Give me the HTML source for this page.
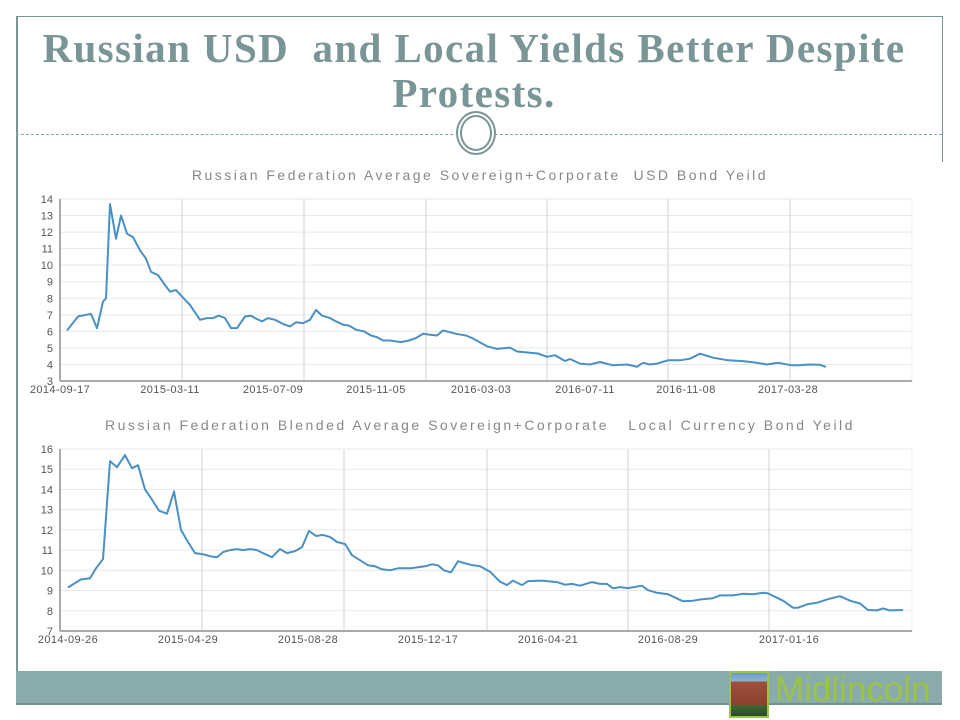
<!DOCTYPE html>
<html><head><meta charset="utf-8"><style>
body{margin:0;width:960px;height:720px;background:#fff;overflow:hidden;position:relative;font-family:"Liberation Sans",sans-serif}
.t{position:absolute;left:0;width:948px;text-align:center;font-family:"Liberation Serif",serif;font-weight:bold;color:#7a9596;font-size:41px;line-height:44px;letter-spacing:1.4px}
</style></head><body>
<div style="position:absolute;left:16px;top:16px;width:926px;height:0;border-top:1px solid #7a9596"></div>
<div style="position:absolute;left:16px;top:16px;width:0;height:655px;border-left:2px solid #7a9596"></div>
<div style="position:absolute;left:942px;top:16px;width:0;height:146px;border-left:1px solid #7a9596"></div>
<div class="t" style="top:26px">Russian USD&nbsp; and Local Yields Better Despite</div>
<div class="t" style="top:71px">Protests.</div>
<div style="position:absolute;left:16px;top:134px;width:926px;border-top:1px dashed #8aa"></div>
<div style="position:absolute;left:454px;top:110px;width:42px;height:46px;background:#fff"></div>
<div style="position:absolute;left:456px;top:111px;width:40px;height:44px;border:2px solid #7a9596;border-radius:50%;box-sizing:border-box"></div>
<div style="position:absolute;left:460px;top:115px;width:32px;height:36px;border:2px solid #7a9596;border-radius:50%;box-sizing:border-box"></div>
<div style="position:absolute;left:16px;top:671px;width:926px;height:32px;background:#8aabab;border-bottom:2px solid #6f8f90"></div>
<div style="position:absolute;left:729px;top:671px;width:40px;height:47px;border:2px solid #9bc447;background:linear-gradient(#6a9cc8 0,#8fb4d4 20%,#a0503a 20%,#8b4030 75%,#3f6a2f 75%,#2c4a22 100%);box-sizing:border-box"></div>
<div style="position:absolute;left:775px;top:670px;font-size:35px;color:#9bc447;font-family:'Liberation Sans',sans-serif">Midlincoln</div>
<svg id="s" width="960" height="720" style="position:absolute;left:0;top:0"></svg>
<script>
var s=document.getElementById('s'),h='';
function chart(o){
 var L=60,R=912,T=o.top,B=o.bot,n=o.max-o.min,u=(B-T)/n;
 h+='<text x="480" y="'+o.ty+'" font-size="14" fill="#888" text-anchor="middle" font-family="Liberation Sans" letter-spacing="'+o.ls+'">'+o.title+'</text>';
 h+='<rect x="'+L+'" y="'+T+'" width="'+(R-L)+'" height="'+(B-T)+'" fill="none" stroke="#e8e8e8"/>';
 for(var v=o.min;v<=o.max;v++){var y=B-(v-o.min)*u;
  h+='<line x1="'+L+'" x2="'+R+'" y1="'+y+'" y2="'+y+'" stroke="#e8e8e8"/>';
  h+='<text x="53" y="'+(y+4)+'" font-size="11" fill="#555" text-anchor="end" font-family="Liberation Sans">'+v+'</text>';}
 o.gx.forEach(function(x){h+='<line x1="'+x+'" x2="'+x+'" y1="'+T+'" y2="'+B+'" stroke="#e0e0e0" stroke-width="1.5"/>';});
 o.lab.forEach(function(l){h+='<text x="'+l[0]+'" y="'+(B+12)+'" font-size="11" fill="#555" text-anchor="middle" font-family="Liberation Sans" letter-spacing="0.4">'+l[1]+'</text>';});
 h+='<line x1="'+L+'" x2="'+L+'" y1="'+T+'" y2="'+B+'" stroke="#aaa" stroke-width="2"/>';
 h+='<line x1="'+L+'" x2="'+R+'" y1="'+B+'" y2="'+B+'" stroke="#aaa" stroke-width="2"/>';
 var d=o.d.map(function(p,i){return (i?'L':'M')+p[0]+','+(B-(p[1]-o.min)*u).toFixed(1)}).join('');
 h+='<path d="'+d+'" fill="none" stroke="#4a90c4" stroke-width="2" stroke-linejoin="round"/>';
}
chart({top:199,bot:381,min:3,max:14,ty:180,ls:2.5,title:'Russian Federation Average Sovereign+Corporate&#160; USD Bond Yeild',
gx:[182,304,426,547,668,790],
lab:[[60,'2014-09-17'],[170,'2015-03-11'],[273,'2015-07-09'],[376,'2015-11-05'],[481,'2016-03-03'],[585,'2016-07-11'],[686,'2016-11-08'],[788,'2017-03-28']],
d:[[67,6.05],[78,6.9],[86,7.0],[91,7.05],[97,6.2],[103,7.8],[106,8],[110,13.7],[116,11.6],[121,13],[127,11.9],[133,11.7],[140,10.9],[146,10.4],[151,9.6],[158,9.4],[165,8.8],[170,8.4],[176,8.5],[182,8.1],[190,7.6],[200,6.7],[207,6.8],[213,6.8],[219,6.95],[225,6.8],[231,6.2],[237,6.2],[245,6.9],[251,6.95],[255,6.8],[262,6.6],[268,6.8],[275,6.7],[283,6.45],[290,6.3],[296,6.55],[303,6.5],[310,6.7],[316,7.3],[322,6.95],[330,6.8],[336,6.6],[343,6.4],[349,6.35],[356,6.1],[364,6.0],[371,5.75],[377,5.65],[383,5.45],[390,5.45],[395,5.4],[401,5.35],[409,5.45],[416,5.6],[423,5.85],[430,5.8],[437,5.75],[443,6.05],[450,5.95],[456,5.85],[466,5.75],[472,5.6],[480,5.33],[487,5.1],[497,4.94],[510,5.02],[517,4.78],[538,4.66],[547,4.46],[555,4.56],[565,4.21],[570,4.33],[580,4.05],[590,4.0],[600,4.15],[613,3.95],[627,4.0],[637,3.86],[643,4.1],[650,4.0],[657,4.05],[668,4.25],[680,4.25],[690,4.35],[700,4.65],[713,4.41],[728,4.25],[743,4.2],[757,4.1],[767,4.0],[778,4.1],[792,3.95],[800,3.95],[808,4.0],[820,3.98],[826,3.85]]});
chart({top:449,bot:631,min:7,max:16,ty:430,ls:2.5,title:'Russian Federation Blended Average Sovereign+Corporate&#160;&#160; Local Currency Bond Yeild',
gx:[202,344,487,628,769],
lab:[[68,'2014-09-26'],[188,'2015-04-29'],[308,'2015-08-28'],[428,'2015-12-17'],[548,'2016-04-21'],[668,'2016-08-29'],[789,'2017-01-16']],
d:[[68,9.15],[81,9.55],[90,9.6],[96,10.1],[103,10.55],[110,15.4],[117,15.1],[125,15.7],[132,15.05],[138,15.2],[145,14.0],[152,13.5],[159,12.95],[167,12.8],[174,13.9],[181,12.0],[188,11.4],[195,10.85],[203,10.8],[210,10.7],[217,10.65],[223,10.9],[230,11.0],[237,11.05],[243,11.0],[250,11.05],[257,11.0],[263,10.85],[272,10.65],[280,11.05],[287,10.85],[295,10.95],[302,11.15],[309,11.95],[316,11.7],[323,11.75],[330,11.65],[337,11.4],[345,11.3],[352,10.75],[360,10.5],[368,10.25],[375,10.2],[382,10.05],[390,10.0],[398,10.1],[405,10.1],[411,10.1],[418,10.15],[425,10.2],[432,10.3],[438,10.25],[444,10.0],[451,9.9],[458,10.45],[465,10.35],[473,10.25],[480,10.2],[490,9.93],[500,9.44],[507,9.27],[513,9.49],[522,9.27],[528,9.47],[542,9.49],[557,9.42],[565,9.29],[572,9.33],[580,9.24],[592,9.42],[600,9.33],[607,9.33],[613,9.11],[620,9.17],[628,9.12],[642,9.24],[648,9.02],[657,8.89],[668,8.82],[683,8.47],[693,8.5],[700,8.56],[712,8.61],[720,8.76],[733,8.76],[743,8.84],[753,8.82],[763,8.89],[768,8.86],[783,8.5],[793,8.15],[798,8.15],[808,8.33],[817,8.4],[830,8.6],[840,8.72],[850,8.5],[860,8.36],[868,8.04],[877,8.02],[883,8.12],[890,8.02],[903,8.04]]});
s.innerHTML=h;
</script>
</body></html>
